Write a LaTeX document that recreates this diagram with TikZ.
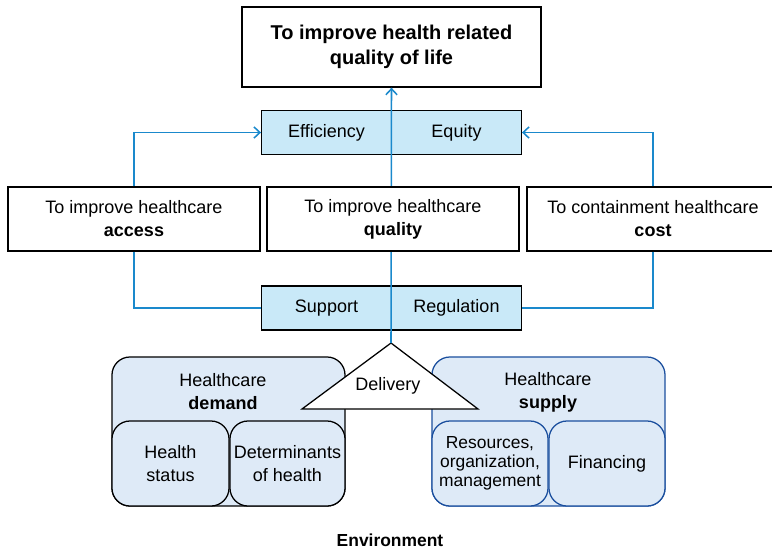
\documentclass[tikz,border=0pt]{standalone}
\usepackage{fontspec}
\setmainfont{Liberation Sans}
\usetikzlibrary{arrows.meta}
\definecolor{lineblue}{RGB}{26,137,204}
\definecolor{boxblue}{RGB}{201,233,248}
\definecolor{paleblue}{RGB}{222,234,247}
\definecolor{darkblue}{RGB}{27,79,158}
\tikzset{every node/.style={align=center,inner sep=0pt,font=\fontsize{12.8}{16.4}\selectfont}}
\tikzset{goal/.style={rectangle,draw,fill=white,line width=0.9pt,minimum width=6.3cm,minimum height=1.6cm}}
\tikzset{tool/.style={rectangle,draw,fill=boxblue,line width=0.9pt,minimum width=3.24cm,minimum height=1.1cm}}
\tikzset{block/.style={rectangle,rounded corners=0.45cm,fill=paleblue,line width=0.9pt}}
\tikzset{flow/.style={draw=lineblue,line width=1.1pt,>={Straight Barb[length=1.5mm,width=2.8mm]}}}

\begin{document}
\begin{tikzpicture}[x=0.025cm,y=-0.025cm]
\useasboundingbox (0,0) rectangle (772,549);
% demand side
\node[block,draw=black,minimum width=5.825cm,minimum height=3.725cm] (dem) at (228.5,431.5) {};
\node (demt) at (223,392) {Healthcare\\\textbf{demand}};
\node[block,draw=black,minimum width=2.925cm,minimum height=2.125cm] (hs) at (170.5,463.5) {Health\\status};
\node[block,draw=black,minimum width=2.875cm,minimum height=2.125cm] (det) at (287.5,463.5) {Determinants\\of health};
% supply side
\node[block,draw=darkblue,minimum width=5.825cm,minimum height=3.725cm] (sup) at (548.5,431.5) {};
\node (supt) at (548,392) {Healthcare\\\textbf{supply}};
\node[block,draw=darkblue,minimum width=2.9cm,minimum height=2.125cm,font=\fontsize{12.4}{13.6}\selectfont] (res) at (490,463.5) {Resources,\\organization,\\management};
\node[block,draw=darkblue,minimum width=2.9cm,minimum height=2.125cm] (fin) at (607,463.5) {Financing};
% delivery
\coordinate (apex) at (391,343);
\filldraw[fill=white,line width=0.9pt] (apex) -- (478,409) -- (302,409) -- cycle;
\node (dlv) at (388,386) {Delivery};
% instruments
\node[tool] (eff) at (326.5,132.5) {Efficiency};
\node[tool] (equ) at (456.5,132.5) {Equity};
\node[tool] (spt) at (326.5,308) {Support};
\node[tool] (reg) at (456.5,308) {Regulation};
\node[goal,minimum width=7.475cm,minimum height=2cm,font=\fontsize{14.2}{17.8}\selectfont\bfseries] (top) at (391.5,47) {To improve health related\\quality of life};
\draw[flow,->] (apex) -- (top.south);
% goals
\node[goal] (acc) at (134,219) {To improve healthcare\\\textbf{access}};
\node[goal] (qal) at (393,219) {To improve healthcare\\\textbf{quality}};
\node[goal] (cst) at (653,219) {To containment healthcare\\\textbf{cost}};
\draw[flow,->] (acc.north) |- (eff.west);
\draw[flow,->] (cst.north) |- (equ.east);
\draw[flow] (acc.south) |- (spt.west);
\draw[flow] (cst.south) |- (reg.east);
\node[font=\fontsize{12.4}{15}\selectfont\bfseries] (env) at (390,540) {Environment};
\end{tikzpicture}
\end{document}
